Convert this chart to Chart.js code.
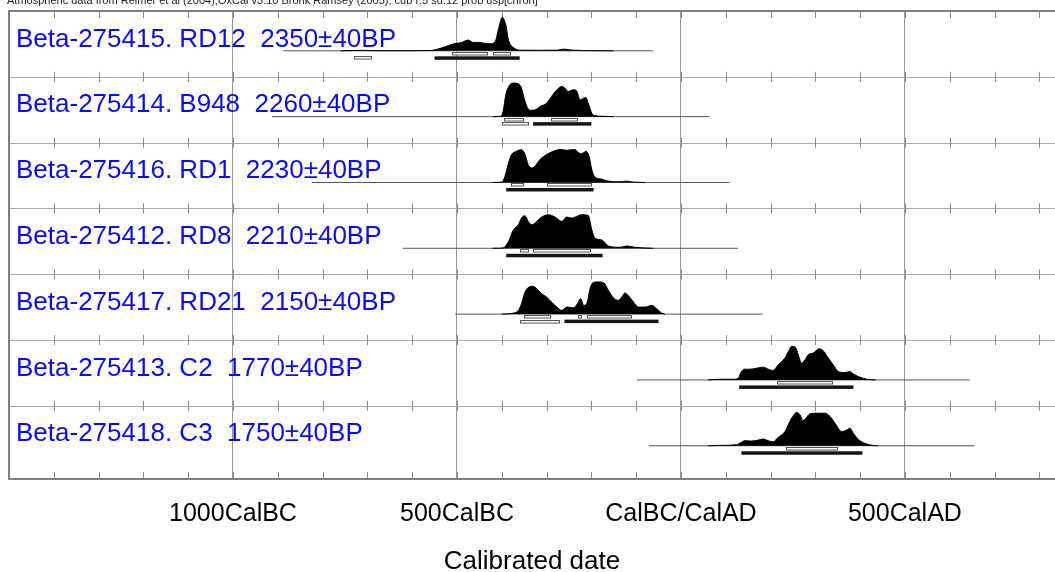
<!DOCTYPE html>
<html>
<head>
<meta charset="utf-8">
<script src="https://cdn.jsdelivr.net/npm/chart.js@4.4.0/dist/chart.umd.min.js"></script>
<style>
html, body { margin: 0; padding: 0; background: #fff; overflow: hidden; }
#wrap { width: 1055px; height: 572px; }
</style>
</head>
<body>
<div id="wrap"><canvas id="oxcal"></canvas></div>
<script>
// sample names and radiocarbon ages
const names = ['Beta-275415. RD12', 'Beta-275414. B948', 'Beta-275416. RD1', 'Beta-275412. RD8',
               'Beta-275417. RD21', 'Beta-275413. C2', 'Beta-275418. C3'];
const ageBP = [2350, 2260, 2230, 2210, 2150, 1770, 1750];
const ageErr = [40, 40, 40, 40, 40, 40, 40];

// calibrated probability, [year (BC negative), relative prob 0-100]
const probRD12 = [[-760,0],[-730,1],[-710,1.5],[-690,0.5],[-600,0.5],[-560,1],[-538,7],[-516,17],[-504,22],[-491,24],
  [-475,32],[-464,25],[-449,25],[-437,22],[-426,21],[-415,27],[-406,72],[-399,100],[-391,77],[-385,32],[-374,10],
  [-359,2],[-320,1.5],[-277,2],[-262,5],[-241,2],[-200,0.5],[-150,0]];
const probB948 = [[-420,0],[-402,1],[-397,15],[-391,65],[-383,93],[-374,100],[-363,98],[-356,85],[-350,55],[-344,30],
  [-337,19],[-326,20],[-315,30],[-300,40],[-289,60],[-277,80],[-266,90],[-259,85],[-252,75],[-240,80],[-233,77],
  [-225,50],[-218,55],[-212,57],[-207,40],[-199,10],[-192,3],[-174,1],[-150,0]];
const probRD1 = [[-420,0],[-400,1],[-393,18],[-385,58],[-378,83],[-367,93],[-356,98],[-348,83],[-341,53],[-333,43],
  [-326,48],[-315,68],[-300,83],[-285,93],[-270,98],[-255,96],[-237,98],[-225,86],[-218,88],[-212,93],[-205,78],
  [-199,38],[-192,16],[-177,10],[-166,5],[-136,2],[-121,4],[-106,1],[-80,0]];
const probRD8 = [[-420,0],[-397,1],[-385,20],[-374,55],[-363,70],[-356,90],[-348,97],[-341,80],[-333,70],[-322,80],
  [-311,93],[-296,100],[-281,93],[-266,80],[-255,93],[-244,90],[-233,95],[-222,100],[-207,98],[-199,55],[-192,30],
  [-177,25],[-162,7],[-136,3],[-121,7],[-103,3],[-62,0]];
const probRD21 = [[-400,0],[-385,1],[-374,3],[-363,11],[-356,31],[-348,66],[-341,79],[-331,83],[-322,76],[-311,61],
  [-300,51],[-289,36],[-277,21],[-266,11],[-255,21],[-240,19],[-231,31],[-224,46],[-217,26],[-209,36],[-203,76],
  [-196,94],[-185,96],[-172,93],[-162,71],[-151,49],[-140,41],[-132,51],[-125,63],[-118,56],[-106,36],[-95,21],
  [-80,21],[-65,26],[-54,16],[-43,3],[-36,0]];
const probC2 = [[60,0],[87,2],[117,2],[128,5],[133,20],[141,32],[154,32],[169,35],[184,38],[195,32],[206,28],
  [217,45],[232,65],[240,85],[247,100],[255,98],[262,75],[269,50],[277,60],[284,75],[295,80],[309,93],[319,85],
  [329,65],[340,45],[351,25],[366,22],[377,25],[385,18],[396,10],[415,2],[435,0]];
const probC3 = [[60,0],[87,1],[124,3],[133,9],[143,15],[158,14],[173,17],[184,20],[195,15],[206,12],[217,25],
  [232,42],[243,72],[252,92],[258,99],[266,92],[272,75],[279,82],[288,95],[303,97],[321,97],[333,87],[344,67],
  [359,42],[370,47],[377,52],[385,37],[396,19],[411,7],[429,1],[440,0]];
const probs = [probRD12, probB948, probRD1, probRD8, probRD21, probC2, probC3];

// extent of each calibration curve line
const lineFrom = [-888, -913, -824, -621, -504, -98, -72];
const lineTo = [-62, 64, 108, 127, 183, 645, 655];

// 68.2% and 95.4% ranges
const range68 = [
  [[-510,-430],[-420,-380]],
  [[-395,-350],[-290,-230]],
  [[-380,-350],[-300,-200]],
  [[-360,-340],[-330,-200]],
  [[-350,-290],[-230,-220],[-210,-110]],
  [[215,340]],
  [[235,350]]
];
const range95 = [
  [[-730,-690],[-550,-360]],
  [[-400,-340],[-330,-200]],
  [[-390,-195]],
  [[-390,-175]],
  [[-360,-270],[-260,-50]],
  [[130,385]],
  [[135,405]]
];

const tickValues = [-1000, -500, 0, 500];
const tickLabels = ['1000CalBC', '500CalBC', 'CalBC/CalAD', '500CalAD'];
const note = 'Atmospheric data from Reimer et al (2004);OxCal v3.10 Bronk Ramsey (2005); cub r:5 sd:12 prob usp[chron]';

const FONT = '"Liberation Sans", Arial, Helvetica, sans-serif';
const BASE_OFF = 0.605;   // baseline position inside a row
const AMP = 0.51;         // row units for prob = 100

function baseOf(i) { return i + BASE_OFF; }

let datasets = [];
probs.forEach((prob, i) => {
  datasets.push({
    data: prob.map(p => ({ x: p[0], y: baseOf(i) - p[1] / 100 * AMP })),
    fill: { value: baseOf(i) },
    backgroundColor: '#000',
    borderColor: '#000',
    borderWidth: 1,
    pointRadius: 0,
    cubicInterpolationMode: 'monotone'
  });
  datasets.push({
    data: [{ x: lineFrom[i], y: baseOf(i) }, { x: lineTo[i], y: baseOf(i) }],
    borderColor: '#555',
    borderWidth: 1,
    pointRadius: 0,
    fill: false
  });
});

function strokeLine(ctx, x0, y0, x1, y1) {
  ctx.beginPath();
  ctx.moveTo(x0, y0);
  ctx.lineTo(x1, y1);
  ctx.stroke();
}

function drawRange(ctx, xs, top, r, solid) {
  const x0 = xs.getPixelForValue(r[0]);
  const x1 = xs.getPixelForValue(r[1]);
  if (solid) {
    ctx.fillStyle = '#151515';
    ctx.fillRect(x0, top, x1 - x0, 3.5);
  } else {
    ctx.fillStyle = '#fff';
    ctx.fillRect(x0, top, x1 - x0, 3);
    ctx.strokeStyle = '#555';
    ctx.lineWidth = 1;
    ctx.strokeRect(Math.round(x0) + 0.5, Math.round(top) + 0.5, Math.round(x1 - x0) - 1, 2.5);
  }
}

const oxcalFrame = {
  id: 'oxcalFrame',
  beforeDatasetsDraw(chart) {
    const { ctx, chartArea: a, scales: { x, y } } = chart;
    const w = chart.width;
    ctx.save();
    ctx.lineWidth = 1;
    ctx.strokeStyle = '#aaa';
    for (let k = 1; k < names.length; k++) {
      const py = Math.round(y.getPixelForValue(k)) + 0.5;
      strokeLine(ctx, a.left, py, w, py);
    }
    ctx.strokeStyle = '#8a8a8a';
    for (let v = -1400; v <= 800; v += 100) {
      const px = Math.round(x.getPixelForValue(v)) + 0.5;
      strokeLine(ctx, px, a.top, px, a.top + 7);
      strokeLine(ctx, px, a.bottom - 7, px, a.bottom);
      for (let k = 1; k < names.length; k++) {
        const py = y.getPixelForValue(k);
        strokeLine(ctx, px, py - 5, px, py + 5);
      }
    }
    ctx.strokeStyle = '#808080';
    ctx.lineWidth = 2;
    ctx.beginPath();
    ctx.moveTo(w, a.top);
    ctx.lineTo(a.left, a.top);
    ctx.lineTo(a.left, a.bottom);
    ctx.lineTo(w, a.bottom);
    ctx.stroke();
    ctx.restore();
  },
  afterDatasetsDraw(chart) {
    const { ctx, scales: { x, y } } = chart;
    ctx.save();
    names.forEach((name, i) => {
      const base = y.getPixelForValue(baseOf(i));
      range68[i].forEach(r => drawRange(ctx, x, base + 1, r, false));
      // the longest 95.4% piece is drawn solid, the others open
      const longest = Math.max(...range95[i].map(r => r[1] - r[0]));
      range95[i].forEach(r => drawRange(ctx, x, base + 5.5, r, r[1] - r[0] === longest));
      ctx.fillStyle = '#0a0aff';
      ctx.font = '26px ' + FONT;
      ctx.textBaseline = 'alphabetic';
      ctx.fillText(name + '  ' + ageBP[i] + '\u00b1' + ageErr[i] + 'BP', 16, y.getPixelForValue(i) + 35.5);
    });
    ctx.restore();
  },
  afterDraw(chart) {
    const ctx = chart.ctx;
    ctx.save();
    ctx.fillStyle = '#222';
    ctx.font = '11px ' + FONT;
    ctx.textBaseline = 'alphabetic';
    ctx.fillText(note, 7, 4);
    ctx.restore();
  }
};

new Chart(document.getElementById('oxcal'), {
  type: 'line',
  data: { datasets: datasets },
  options: {
    responsive: true,
    maintainAspectRatio: false,
    animation: false,
    layout: { padding: { left: 9, top: 11, right: 0, bottom: 0 } },
    plugins: { legend: { display: false }, tooltip: { enabled: false } },
    scales: {
      x: {
        type: 'linear',
        min: -1500,
        max: 835,
        afterBuildTicks: s => { s.ticks = tickValues.map(v => ({ value: v })); },
        afterFit: s => { s.height = 93; },
        border: { display: false },
        grid: {
          drawTicks: true,
          tickLength: 20,
          tickColor: 'rgba(0,0,0,0)',
          lineWidth: 1,
          color: '#999'
        },
        ticks: {
          padding: 0,
          maxRotation: 0,
          autoSkip: false,
          color: '#000',
          font: { family: FONT, size: 25 },
          callback: v => tickLabels[tickValues.indexOf(v)]
        },
        title: {
          display: true,
          text: 'Calibrated date',
          color: '#000',
          font: { family: FONT, size: 26, lineHeight: 1 },
          padding: { top: 0, bottom: -3 }
        }
      },
      y: { type: 'linear', min: 0, max: 7.11, reverse: true, display: false }
    }
  },
  plugins: [oxcalFrame]
});
</script>
</body>
</html>
